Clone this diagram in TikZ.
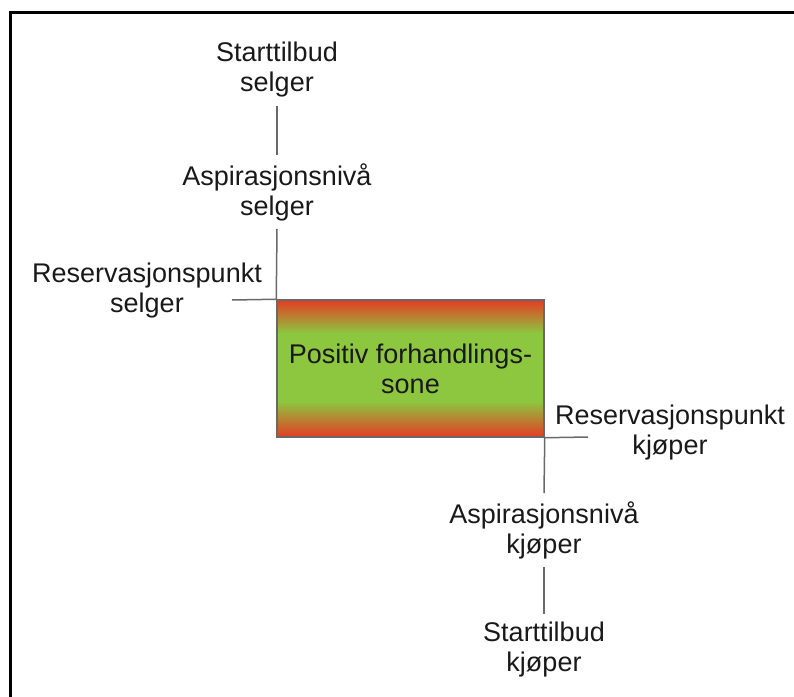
\documentclass[tikz,border=0pt]{standalone}
\usepackage{fontspec}
\setmainfont{Liberation Sans}
\usetikzlibrary{positioning}
\definecolor{zonered}{RGB}{228,60,36}
\definecolor{zonegreen}{RGB}{141,198,63}
\definecolor{linegray}{RGB}{105,105,105}
\pgfdeclareverticalshading{zone}{100bp}{color(0bp)=(zonered); color(25bp)=(zonered); color(38bp)=(zonegreen); color(63bp)=(zonegreen); color(75bp)=(zonered); color(100bp)=(zonered)}
\tikzstyle{line} = [draw,
color=linegray, line width=1.5bp]

\begin{document}
\begin{tikzpicture}[x=1bp, y=-1bp,
		txt/.style={align=center, inner sep=8bp, text=black!90,
			font=\fontsize{27bp}{30bp}\selectfont},
		zonebox/.style={draw=linegray, line width=1.5bp, shade, shading=zone,
			minimum width=267bp, minimum height=137bp, inner sep=0pt}]
		\useasboundingbox (0,0) rectangle (794,697);
		%% Frame
		\draw [line width=3bp] (10,697) -- (10,13) -- (794,13);
		%% Zone
		\node [txt, zonebox] at (410.5,368.5) (Z) {Positiv forhandlings-\\sone};
		%% Seller
		\node [txt] at (277,70) (SS) {Starttilbud\\selger};
		\node [txt] at (277,192) (AS) {Aspirasjonsnivå\\selger};
		\node [txt] at (147,291) (RS) {Reservasjonspunkt\\selger};
		\coordinate (RSend) at (232,300);
		%% Buyer
		\node [txt] at (670,433) (RK) {Reservasjonspunkt\\kjøper};
		\node [txt] at (544,530) (AK) {Aspirasjonsnivå\\kjøper};
		\node [txt] at (544,650) (SK) {Starttilbud\\kjøper};
		\coordinate (RKend) at (588,437);
		%% Lines
		\path [line] (SS.south) -- (AS.north);
		\path [line] (AS.south) -- (Z.north west);
		\path [line] (RSend) -- (Z.north west);
		\path [line] (Z.south east) -- (RKend);
		\path [line] (Z.south east) -- (AK.north);
		\path [line] (AK.south) -- (SK.north);
	\end{tikzpicture}
\end{document}
